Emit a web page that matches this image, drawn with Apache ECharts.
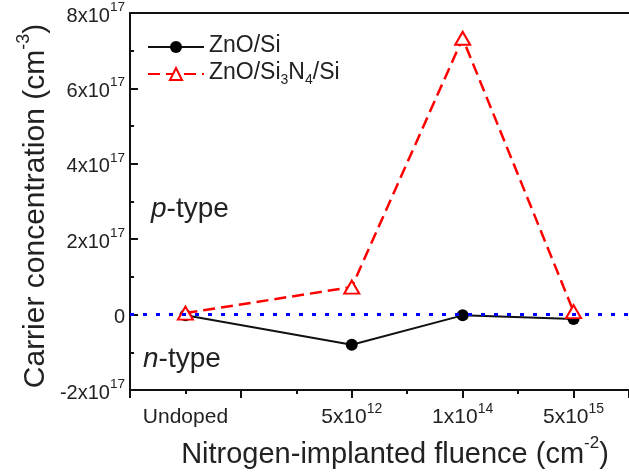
<!DOCTYPE html>
<html>
<head>
<meta charset="utf-8">
<script src="https://cdn.jsdelivr.net/npm/echarts@6/dist/echarts.min.js"></script>
<style>
  html, body { margin: 0; padding: 0; background: #fff; }
  #chart { width: 629px; height: 473px; }
</style>
</head>
<body>
<div id="chart"></div>
<script>
// Implant fluence categories and where they sit on the x scale
const fluenceLabels = ['Undoped', '5x10^12', '1x10^14', '5x10^15'];
const fluencePos = [0.5, 2, 3, 4];

// Carrier concentration (cm^-3)
const znoSi = [-0.02e17, -0.8e17, -0.02e17, -0.12e17];
const znoSi3n4Si = [0.04e17, 0.73e17, 7.33e17, 0.08e17];

const seriesNames = ['ZnO/Si', 'ZnO/Si3N4/Si'];
const FONT = '"Liberation Sans", Arial, sans-serif';
const INK = '#222';

// "5x10^12" -> rich text with a superscript exponent
function supText(s) {
  const parts = s.split('^');
  return parts.length > 1 ? '{b|' + parts[0] + '}{s|' + parts[1] + '}' : '{b|' + s + '}';
}

const tickRich = {
  b: { fontFamily: FONT, fontSize: 20, color: INK, lineHeight: 26, verticalAlign: 'bottom' },
  s: { fontFamily: FONT, fontSize: 13.5, color: INK, lineHeight: 26, verticalAlign: 'top' }
};

function titleRich(size) {
  return {
    t: { fontFamily: FONT, fontSize: size, fill: INK, lineHeight: size + 6, verticalAlign: 'bottom' },
    s: { fontFamily: FONT, fontSize: Math.round(size * 0.6), fill: INK, lineHeight: size + 6, verticalAlign: 'top' }
  };
}

const chart = echarts.init(document.getElementById('chart'), null, { renderer: 'canvas' });

const points = (vals) => vals.map((v, i) => [fluencePos[i], v]);

chart.setOption({
  animation: false,
  backgroundColor: '#fff',
  grid: { left: 130, top: 13, width: 508.5, height: 377, containLabel: false },
  legend: {
    left: 142,
    top: 29,
    orient: 'vertical',
    itemWidth: 56,
    itemHeight: 15,
    itemGap: 4,
    data: seriesNames,
    formatter: (name) => name === 'ZnO/Si3N4/Si'
      ? '{t|ZnO/Si}{u|3}{t|N}{u|4}{t|/Si}'
      : '{t|' + name + '}',
    textStyle: {
      rich: {
        t: { fontFamily: FONT, fontSize: 23, color: INK, lineHeight: 26, verticalAlign: 'top' },
        u: { fontFamily: FONT, fontSize: 14, color: INK, lineHeight: 26, verticalAlign: 'bottom' }
      }
    }
  },
  xAxis: [{
    type: 'value',
    position: 'bottom',
    min: 0,
    max: 4.5,
    interval: 1,
    axisLine: { show: true, onZero: false, lineStyle: { color: '#111', width: 2 } },
    axisTick: { show: true, inside: false, length: 8, lineStyle: { color: '#111', width: 2 } },
    minorTick: { show: true, splitNumber: 2, length: 4, lineStyle: { color: '#111', width: 2 } },
    splitLine: { show: false },
    axisLabel: {
      customValues: fluencePos,
      margin: 12,
      formatter: (v) => {
        const i = fluencePos.indexOf(v);
        return i >= 0 ? supText(fluenceLabels[i]) : '';
      },
      rich: {
        b: { fontFamily: FONT, fontSize: 21, color: INK, lineHeight: 26, verticalAlign: 'bottom' },
        s: { fontFamily: FONT, fontSize: 14, color: INK, lineHeight: 26, verticalAlign: 'top' }
      }
    }
  }, {
    type: 'value',
    position: 'top',
    min: 0,
    max: 4.5,
    axisLine: { show: true, onZero: false, lineStyle: { color: '#111', width: 2 } },
    axisTick: { show: false },
    axisLabel: { show: false },
    splitLine: { show: false }
  }],
  yAxis: {
    type: 'value',
    min: -2e17,
    max: 8e17,
    interval: 2e17,
    axisLine: { show: true, onZero: false, lineStyle: { color: '#111', width: 2 } },
    axisTick: { show: true, inside: true, length: 8, lineStyle: { color: '#111', width: 2 } },
    minorTick: { show: true, splitNumber: 2, length: 4, lineStyle: { color: '#111', width: 2 } },
    splitLine: { show: false },
    axisLabel: {
      margin: 5,
      formatter: (v) => {
        const n = Math.round(v / 1e17);
        return n === 0 ? '{b|0}' : supText(n + 'x10^17');
      },
      rich: tickRich
    }
  },
  series: [{
    name: seriesNames[0],
    type: 'line',
    data: points(znoSi),
    symbol: 'circle',
    symbolSize: 12,
    itemStyle: { color: '#000' },
    lineStyle: { color: '#111', width: 2 },
    z: 2,
    markLine: {
      silent: true,
      symbol: ['none', 'none'],
      label: { show: false },
      lineStyle: { color: '#0000ff', width: 3, type: [4, 9] },
      data: [{ yAxis: 0 }]
    }
  }, {
    name: seriesNames[1],
    type: 'line',
    data: points(znoSi3n4Si),
    symbol: 'triangle',
    symbolSize: [15, 13],
    itemStyle: { color: '#fff', borderColor: '#ff0000', borderWidth: 2 },
    lineStyle: { color: '#ff0000', width: 2.5, type: [12, 6] },
    z: 3
  }],
  graphic: [{
    // y-axis title, reading bottom to top
    type: 'text',
    x: 33,
    y: 206,
    rotation: Math.PI / 2,
    style: {
      text: '{t|Carrier concentration (cm}{s|-3}{t|)}',
      align: 'center',
      verticalAlign: 'middle',
      rich: titleRich(30)
    }
  }, {
    // x-axis title
    type: 'text',
    x: 395,
    y: 452,
    style: {
      text: '{t|Nitrogen-implanted fluence (cm}{s|-2}{t|)}',
      align: 'center',
      verticalAlign: 'middle',
      rich: titleRich(29)
    }
  }, {
    type: 'text',
    left: 151,
    top: 195,
    style: {
      text: '{i|p}{n|-type}',
      rich: {
        i: { fontFamily: FONT, fontSize: 28, fontStyle: 'italic', fill: INK },
        n: { fontFamily: FONT, fontSize: 28, fill: INK }
      }
    }
  }, {
    type: 'text',
    left: 143,
    top: 345,
    style: {
      text: '{i|n}{n|-type}',
      rich: {
        i: { fontFamily: FONT, fontSize: 28, fontStyle: 'italic', fill: INK },
        n: { fontFamily: FONT, fontSize: 28, fill: INK }
      }
    }
  }]
});
</script>
</body>
</html>
